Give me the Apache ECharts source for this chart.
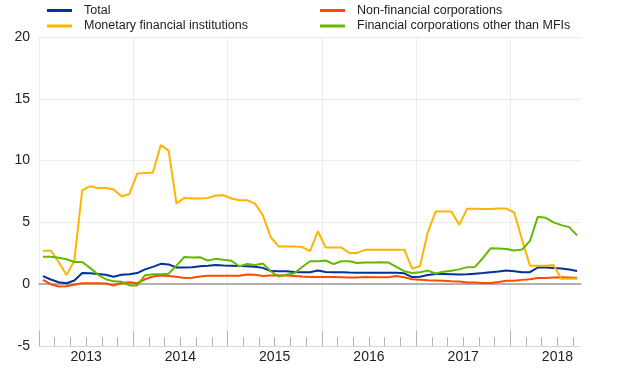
<!DOCTYPE html>
<html><head><meta charset="utf-8">
<script src="https://cdn.jsdelivr.net/npm/echarts@6/dist/echarts.min.js"></script>
<style>html,body{margin:0;padding:0;background:#fff}#c{width:620px;height:387px}</style>
</head><body><div id="c"></div>
<script>
// Monthly observations, Jan 2013 - Sep 2018
const categories = [
  '2013-01','2013-02','2013-03','2013-04','2013-05','2013-06','2013-07','2013-08','2013-09','2013-10','2013-11','2013-12',
  '2014-01','2014-02','2014-03','2014-04','2014-05','2014-06','2014-07','2014-08','2014-09','2014-10','2014-11','2014-12',
  '2015-01','2015-02','2015-03','2015-04','2015-05','2015-06','2015-07','2015-08','2015-09','2015-10','2015-11','2015-12',
  '2016-01','2016-02','2016-03','2016-04','2016-05','2016-06','2016-07','2016-08','2016-09','2016-10','2016-11','2016-12',
  '2017-01','2017-02','2017-03','2017-04','2017-05','2017-06','2017-07','2017-08','2017-09','2017-10','2017-11','2017-12',
  '2018-01','2018-02','2018-03','2018-04','2018-05','2018-06','2018-07','2018-08','2018-09'
];
const total = [
  0.65,0.38,0.16,0.08,0.30,0.90,0.88,0.82,0.76,0.60,0.76,0.80,
  0.90,1.20,1.40,1.65,1.60,1.35,1.35,1.37,1.46,1.50,1.55,1.52,
  1.50,1.48,1.45,1.42,1.32,1.06,1.04,1.04,0.98,0.96,0.97,1.10,
  0.99,0.97,0.96,0.94,0.93,0.92,0.92,0.93,0.93,0.93,0.88,0.58,
  0.60,0.75,0.82,0.82,0.80,0.78,0.80,0.85,0.90,0.97,1.03,1.10,
  1.05,0.97,0.97,1.35,1.35,1.32,1.27,1.19,1.06
];
const nonFinancial = [
  0.35,0.00,-0.19,-0.16,-0.04,0.08,0.08,0.08,0.05,-0.10,0.10,0.16,
  0.08,0.40,0.62,0.70,0.66,0.60,0.50,0.53,0.63,0.68,0.68,0.68,
  0.68,0.68,0.78,0.76,0.67,0.70,0.72,0.70,0.67,0.62,0.59,0.59,
  0.59,0.59,0.57,0.54,0.54,0.59,0.57,0.57,0.57,0.66,0.56,0.40,
  0.36,0.32,0.30,0.27,0.24,0.22,0.14,0.13,0.10,0.10,0.17,0.27,
  0.27,0.35,0.40,0.51,0.51,0.54,0.57,0.54,0.51
];
const mfi = [
  2.68,2.73,1.80,0.75,1.90,7.60,7.93,7.79,7.79,7.66,7.12,7.28,
  8.95,9.00,9.03,11.25,10.81,6.53,6.98,6.93,6.93,6.98,7.17,7.20,
  6.93,6.79,6.79,6.52,5.57,3.80,3.06,3.06,3.06,3.00,2.68,4.28,
  2.96,2.96,2.96,2.53,2.53,2.78,2.78,2.78,2.78,2.78,2.79,1.26,
  1.47,4.22,5.88,5.88,5.88,4.80,6.10,6.10,6.08,6.08,6.12,6.12,
  5.80,3.60,1.50,1.50,1.50,1.55,0.45,0.45,0.45
];
const otherFinancial = [
  2.22,2.22,2.14,2.02,1.80,1.80,1.32,0.78,0.40,0.23,0.19,-0.10,
  -0.11,0.73,0.80,0.80,0.85,1.50,2.20,2.16,2.18,1.91,2.05,1.98,
  1.89,1.45,1.63,1.55,1.68,1.05,0.62,0.77,0.88,1.39,1.86,1.86,
  1.92,1.63,1.86,1.86,1.72,1.75,1.76,1.78,1.75,1.40,1.05,0.90,
  0.97,1.10,0.87,1.00,1.08,1.20,1.38,1.40,2.10,2.90,2.88,2.85,
  2.72,2.80,3.50,5.45,5.37,5.00,4.78,4.62,3.95
];
const yearLabels = ['2013','2014','2015','2016','2017','2018'];
const seriesNames = ['Total','Non-financial corporations','Monetary financial institutions','Financial corporations other than MFIs'];
const seriesData = [total, nonFinancial, mfi, otherFinancial];
const colors = ['#003299','#ff4b00','#ffb400','#65b800'];

const FONT = '"Liberation Sans", Arial, Helvetica, sans-serif';
const L = 39, W = 542, TOP = 37, BOT = 41;
const n = categories.length;
const monthsPerYear = 12;
const majorSpan = (yearLabels.length - 1) * monthsPerYear;   // 60
const minorSpan = n - 1;                                     // 68

const chart = echarts.init(document.getElementById('c'), null, {renderer: 'canvas'});

const hiddenY = i => ({type: 'value', gridIndex: i, show: false, min: 0, max: 1});

const legendCommon = {
  padding: 0, icon: 'rect', itemWidth: 25, itemHeight: 3,
  textStyle: {fontSize: 12.5, color: '#222', fontFamily: FONT, padding: [0, 0, 0, 7]}
};

chart.setOption({
  animation: false,
  backgroundColor: '#fff',
  textStyle: {fontFamily: FONT},
  grid: [
    {left: L, width: W, top: TOP, bottom: BOT},
    {left: L, width: W * majorSpan / n, top: TOP, bottom: BOT},
    {left: L, width: W * minorSpan / n, top: TOP, bottom: BOT},
    {left: L + W * (monthsPerYear / 2) / n, width: W * majorSpan / n, top: TOP, bottom: BOT}
  ],
  legend: [
    Object.assign({data: [seriesNames[0]], left: 47, top: 4}, legendCommon),
    Object.assign({data: [seriesNames[1]], left: 320, top: 4}, legendCommon),
    Object.assign({data: [seriesNames[2]], left: 47, top: 19.5}, legendCommon),
    Object.assign({data: [seriesNames[3]], left: 320, top: 19.5}, legendCommon)
  ],
  xAxis: [
    {
      type: 'category', gridIndex: 0, data: categories, boundaryGap: true,
      axisLine: {show: true, onZero: true, lineStyle: {color: '#9a9a9a', width: 1.5}},
      axisTick: {show: false}, axisLabel: {show: false}, splitLine: {show: false}
    },
    {
      type: 'value', gridIndex: 1, min: 0, max: majorSpan, interval: monthsPerYear,
      axisLine: {show: false},
      axisTick: {show: true, inside: true, length: 15, lineStyle: {color: '#b4b4b4', width: 1}},
      axisLabel: {show: false},
      splitLine: {show: true, lineStyle: {color: '#ececec', width: 1}}
    },
    {
      type: 'value', gridIndex: 2, min: 0, max: minorSpan, interval: 2,
      axisLine: {show: false},
      axisTick: {show: true, inside: true, length: 9, lineStyle: {color: '#b4b4b4', width: 1}},
      axisLabel: {show: false}, splitLine: {show: false}
    },
    {
      type: 'value', gridIndex: 3, min: 0, max: majorSpan, interval: monthsPerYear,
      axisLine: {show: false}, axisTick: {show: false}, splitLine: {show: false},
      axisLabel: {
        show: true, margin: 4, fontSize: 14, color: '#222', fontFamily: FONT,
        formatter: v => yearLabels[Math.round(v / monthsPerYear)] || ''
      }
    }
  ],
  yAxis: [
    {
      type: 'value', gridIndex: 0, min: -5, max: 20, interval: 5,
      axisLine: {show: false}, axisTick: {show: false},
      axisLabel: {fontSize: 14, color: '#222', margin: 9, fontFamily: FONT},
      splitLine: {show: true, lineStyle: {color: ['#d6d6d6', '#ececec', '#ececec', '#ececec', '#ececec', '#ececec'], width: 1}}
    },
    hiddenY(1), hiddenY(2), hiddenY(3)
  ],
  series: seriesNames.map((name, i) => ({
    name, type: 'line', xAxisIndex: 0, yAxisIndex: 0,
    data: seriesData[i], showSymbol: false, symbol: 'none',
    color: colors[i],
    lineStyle: {color: colors[i], width: 2},
    z: 2
  }))
});
</script>
</body></html>
